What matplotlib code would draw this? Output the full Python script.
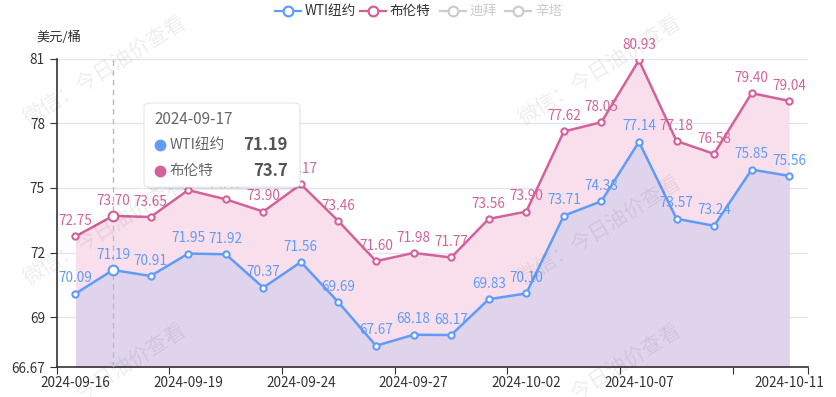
import matplotlib.pyplot as plt
from matplotlib.patches import FancyBboxPatch
from matplotlib.lines import Line2D

plt.rcParams['font.family'] = ['Noto Sans CJK SC', 'DejaVu Sans']

dates = ["2024-09-16", "2024-09-17", "2024-09-18", "2024-09-19", "2024-09-20",
         "2024-09-23", "2024-09-24", "2024-09-25", "2024-09-26", "2024-09-27",
         "2024-09-30", "2024-10-01", "2024-10-02", "2024-10-03", "2024-10-04",
         "2024-10-07", "2024-10-08", "2024-10-09", "2024-10-10", "2024-10-11"]
wti = [70.09, 71.19, 70.91, 71.95, 71.92, 70.37, 71.56, 69.69, 67.67, 68.18,
       68.17, 69.83, 70.10, 73.71, 74.38, 77.14, 73.57, 73.24, 75.85, 75.56]
brent = [72.75, 73.70, 73.65, 74.90, 74.47, 73.90, 75.17, 73.46, 71.60, 71.98,
         71.77, 73.56, 73.90, 77.62, 78.05, 80.93, 77.18, 76.58, 79.40, 79.04]
y_ticks = [66.67, 69, 72, 75, 78, 81]
label_idx = [0, 3, 6, 9, 12, 15, 19]
hover = 1

blue = '#5f9cf8'
pink = '#d3629a'
ymin, ymax = 66.67, 81

fig = plt.figure(figsize=(8.36, 3.97), dpi=100)
W, H = 836, 397
ax = fig.add_axes([56.7 / W, 1 - 367.3 / H, (808 - 56.7) / W, (367.3 - 58.7) / H])

x = list(range(len(dates)))
ax.fill_between(x, brent, ymin, color='#f9dfec', lw=0, zorder=1)
ax.fill_between(x, wti, ymin, color='#e0d4ec', lw=0, zorder=2)
ax.plot(x, brent, color=pink, lw=1.8, zorder=4)
ax.plot(x, wti, color=blue, lw=1.8, zorder=4)
for i in x:
    ms = 7 if i == hover else 4.5
    ax.plot(i, brent[i], 'o', ms=ms, mfc='white', mec=pink, mew=1.5, zorder=5)
    ax.plot(i, wti[i], 'o', ms=ms, mfc='white', mec=blue, mew=1.5, zorder=5)
    ax.annotate(f'{brent[i]:.2f}', (i, brent[i]), xytext=(0, 6), textcoords='offset points',
                ha='center', va='bottom', color=pink, fontsize=9.8, zorder=6)
    ax.annotate(f'{wti[i]:.2f}', (i, wti[i]), xytext=(0, 6), textcoords='offset points',
                ha='center', va='bottom', color=blue, fontsize=9.8, zorder=6)

ax.set_xlim(-0.5, len(dates) - 0.5)
ax.set_ylim(ymin, ymax)
ax.set_yticks(y_ticks)
ax.set_yticklabels(['66.67', '69', '72', '75', '78', '81'])
ax.set_xticks([k - 0.5 for k in range(0, 20, 3)] + [19.5])
ax.set_xticklabels([])
ax.set_xticks(label_idx, minor=True)
ax.set_xticklabels([dates[i] for i in label_idx], minor=True)
ax.tick_params(axis='x', which='minor', length=0, pad=6, labelsize=9.8, labelcolor='#333333')
ax.tick_params(axis='x', which='major', length=5, color='#333333')
ax.tick_params(axis='y', length=5, color='#333333', labelsize=9.8, labelcolor='#333333')
for s in ['top', 'right']:
    ax.spines[s].set_visible(False)
for s in ['left', 'bottom']:
    ax.spines[s].set_color('#333333')
    ax.spines[s].set_linewidth(1.2)
ax.grid(axis='y', color='#e0e6f1', lw=1, zorder=0)
ax.set_axisbelow(True)
ax.axvline(hover, color='#bbbbbb', lw=1, ls=(0, (4, 3)), zorder=3)

fig.text(36 / W, 1 - 37 / H, '美元/桶', fontsize=9.5, color='#333333', va='center')

# watermarks
for cx in [105, 600]:
    for cy in [70, 230, 378]:
        fig.text(cx / W, 1 - cy / H, '微信：今日油价查看', fontsize=15, color='#000000',
                 alpha=0.07, rotation=32, ha='center', va='center', zorder=20)

# legend
items = [('WTI纽约', blue, '#333333', 288), ('布伦特', pink, '#333333', 373),
         ('迪拜', '#cccccc', '#cccccc', 453), ('辛塔', '#cccccc', '#cccccc', 518)]
for name, c, tc, cx in items:
    fig.add_artist(Line2D([(cx - 13) / W, (cx + 13) / W], [1 - 11 / H, 1 - 11 / H],
                          color=c, lw=1.6, transform=fig.transFigure))
    fig.add_artist(Line2D([cx / W], [1 - 11 / H], marker='o', ms=7, mfc='white', mec=c, mew=1.6,
                          transform=fig.transFigure))
    fig.text((cx + 17) / W, 1 - 11 / H, name, fontsize=9.8, color=tc, va='center')

# tooltip
shadow = FancyBboxPatch((147 / W, 1 - 190 / H), 154 / W, 84 / H,
                        boxstyle='round,pad=0,rounding_size=0.008', transform=fig.transFigure,
                        fc='#000000', alpha=0.06, lw=0, zorder=29)
fig.add_artist(shadow)
box = FancyBboxPatch((144 / W, 1 - 187 / H), 156 / W, 84 / H,
                     boxstyle='round,pad=0,rounding_size=0.008', transform=fig.transFigure,
                     fc='white', ec='#e6e6e6', lw=0.8, zorder=30)
fig.add_artist(box)
fig.text(154 / W, 1 - 120 / H, dates[hover], fontsize=11, color='#666666', va='center', zorder=31)
for k, (name, c, val) in enumerate([('WTI纽约', blue, wti[hover]), ('布伦特', pink, brent[hover])]):
    yy = 1 - (145 + 26 * k) / H
    fig.add_artist(Line2D([160 / W], [yy], marker='o', ms=7.5, color=c, lw=0,
                          transform=fig.transFigure, zorder=31))
    fig.text(170 / W, yy, name, fontsize=10.5, color='#666666', va='center', zorder=31)
    fig.text(288 / W, yy, f'{val:g}', fontsize=12, color='#555555', fontweight='bold',
             va='center', ha='right', zorder=31)

fig.savefig('out.png', dpi=100)
